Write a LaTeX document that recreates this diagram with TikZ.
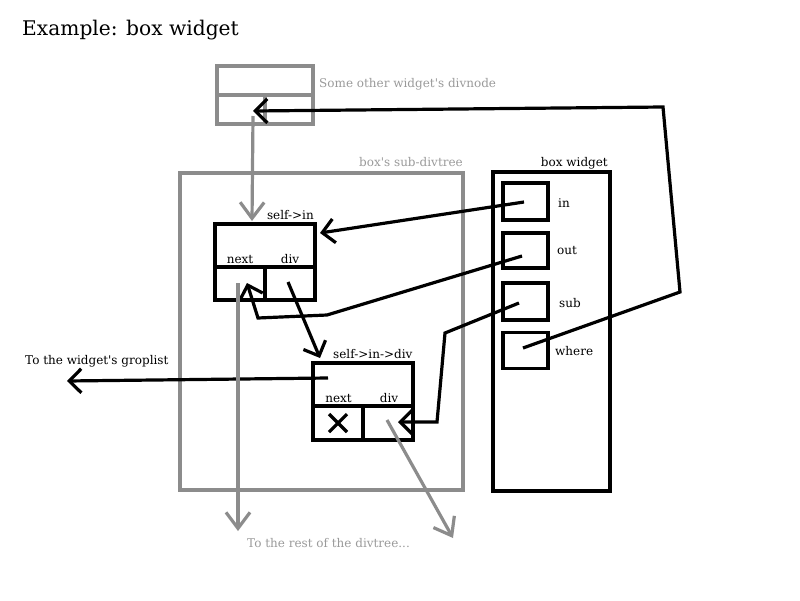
\documentclass[tikz,border=0pt]{standalone}
\usepackage{fontspec}
\setmainfont{DejaVu Serif}
\usetikzlibrary{arrows.meta}
\definecolor{lgray}{HTML}{8C8C8C}
\definecolor{tgray}{HTML}{9A9A9A}
\begin{document}
\begin{tikzpicture}[x=1pt,y=-1pt,
  blk/.style={draw=black,line width=3.2pt},
  gry/.style={draw=lgray,line width=3.2pt},
  bbox/.style={blk,inner sep=0pt,rectangle},
  gbox/.style={gry,inner sep=0pt,rectangle},
  barrow/.style={blk,-{Straight Barb[length=12pt,width=24pt]}},
  garrow/.style={gry,-{Straight Barb[length=16pt,width=24pt]}},
  lbl/.style={inner sep=0pt,font=\fontsize{12}{14}\selectfont},
  glbl/.style={lbl,text=tgray}]
\useasboundingbox (0,0) rectangle (800,600);

% title
\node[inner sep=0pt,anchor=base west,font=\fontsize{20.2}{24}\selectfont] (title) at (22,35) {Example: box widget};

% other widget's divnode
\node[gbox,minimum width=96pt,minimum height=58pt] (other) at (265,95) {};
\draw[gry] (other.west) -- (other.east);
\draw[gry] (other.center) -- (other.south);
\node[glbl,anchor=base west] (otherlbl) at (319,87) {Some other widget\textquotesingle s divnode};

% box's sub-divtree
\node[gbox,minimum width=283pt,minimum height=317pt] (subtree) at (321.5,331.5) {};
\node[glbl,anchor=base east] (subtreelbl) at (463,166) {box\textquotesingle s sub-divtree};

% box widget
\node[bbox,minimum width=117pt,minimum height=319pt] (widget) at (551.5,331.5) {};
\node[lbl,anchor=base east] (widgetlbl) at (608,166) {box widget};
\node[bbox,minimum width=45pt,minimum height=37pt] (inb) at (525.5,201.5) {};
\node[bbox,minimum width=45pt,minimum height=35pt] (outb) at (525.5,250.5) {};
\node[bbox,minimum width=45pt,minimum height=37pt] (subb) at (525.5,301.5) {};
\node[bbox,minimum width=45pt,minimum height=36pt] (whereb) at (525.5,350.5) {};
\node[lbl,anchor=base west] (inl) at (558,207) {in};
\node[lbl,anchor=base west] (outl) at (557,254) {out};
\node[lbl,anchor=base west] (subl) at (559,307) {sub};
\node[lbl,anchor=base west] (wherel) at (555,355) {where};

% self->in
\node[bbox,minimum width=100pt,minimum height=76pt] (selfin) at (265,262) {};
\draw[blk] ([yshift=-5pt]selfin.west) -- ([yshift=-5pt]selfin.east);
\draw[blk] ([yshift=-5pt]selfin.center) -- (selfin.south);
\node[lbl,anchor=base east] (selfinlbl) at (314,219) {self->in};
\node[lbl,anchor=base] (n1) at (240,263) {next};
\node[lbl,anchor=base] (d1) at (290,263) {div};

% self->in->div
\node[bbox,minimum width=100pt,minimum height=77pt] (selfdiv) at (363,401.5) {};
\draw[blk] ([yshift=-4.5pt]selfdiv.west) -- ([yshift=-4.5pt]selfdiv.east);
\draw[blk] ([yshift=-4.5pt]selfdiv.center) -- (selfdiv.south);
\node[lbl,anchor=base west] (selfdivlbl) at (333,358) {self->in->div};
\node[lbl,anchor=base] (n2) at (338.5,402) {next};
\node[lbl,anchor=base] (d2) at (389,402) {div};
\draw[blk] (329,414) -- (347,432);
\draw[blk] (347,414) -- (329,432);

% named points
\coordinate (pin) at (524,202);
\coordinate (pout) at (522,256);
\coordinate (psub) at (519,303);
\coordinate (pwhere) at (523,348);
\coordinate (tipin) at (320,233);
\coordinate (tipnext) at (247,283);
\coordinate (tipdiv2) at (398,422);
\coordinate (tipother) at (253,111);
\coordinate (pd1) at (288,282);
\coordinate (tipselfdiv) at (320,358);
\coordinate (pselfdiv) at (328,378);
\coordinate (tipgrop) at (67,381);
\coordinate (pother) at (253,116);
\coordinate (tipselfin) at (252,221);
\coordinate (pn1) at (238,283);
\coordinate (tiprest) at (238,531);
\coordinate (pd2) at (387,420);
\coordinate (tipd2) at (453,538);

% black connectors
\draw[barrow] (pwhere) -- (680,292) -- (663,107) -- (tipother);
\draw[barrow] (pin) -- (tipin);
\draw[barrow] (pout) -- (327,315) -- (258,318) -- (tipnext);
\draw[barrow] (psub) -- (445,333) -- (437,422) -- (tipdiv2);
\draw[barrow] (pd1) -- (tipselfdiv);
\draw[barrow] (pselfdiv) -- (tipgrop);
\node[lbl,anchor=base west] (groplbl) at (25,364) {To the widget\textquotesingle s groplist};

% gray connectors
\draw[garrow] (pother) -- (tipselfin);
\draw[garrow] (pn1) -- (tiprest);
\draw[garrow] (pd2) -- (tipd2);
\node[glbl,anchor=base west] (restlbl) at (247,547) {To the rest of the divtree...};
\end{tikzpicture}
\end{document}
